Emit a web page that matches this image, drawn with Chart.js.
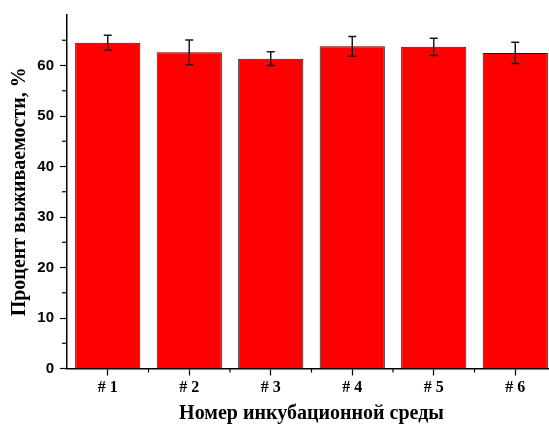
<!DOCTYPE html>
<html lang="ru">
<head>
<meta charset="UTF-8">
<script src="https://cdn.jsdelivr.net/npm/chart.js"></script>
<title>Процент выживаемости</title>
<style>
  html, body { margin: 0; background: #fff; overflow: hidden; }
  canvas { display: block; }
</style>
</head>
<body>
<!-- the original figure is cut off on the right, so the canvas is a bit wider than the window -->
<canvas id="myChart" width="556" height="428"></canvas>
<script>
const labels = ['# 1', '# 2', '# 3', '# 4', '# 5', '# 6'];
const survival = [64.5, 62.6, 61.35, 63.8, 63.7, 62.5];
const errors = [1.5, 2.45, 1.35, 1.95, 1.7, 2.1];
const yTicks = [0, 5, 10, 15, 20, 25, 30, 35, 40, 45, 50, 55, 60, 65];

// error bars + minor ticks
const extras = {
  id: 'extras',
  afterDatasetsDraw(chart) {
    const ctx = chart.ctx;
    const y = chart.scales.y;
    const x = chart.scales.x;
    const meta = chart.getDatasetMeta(0);
    ctx.save();
    ctx.strokeStyle = '#1a1a1a';
    ctx.lineWidth = 1.5;
    meta.data.forEach((bar, i) => {
      const top = y.getPixelForValue(survival[i] + errors[i]);
      const bot = y.getPixelForValue(survival[i] - errors[i]);
      ctx.beginPath();
      ctx.moveTo(bar.x, top); ctx.lineTo(bar.x, bot);
      ctx.moveTo(bar.x - 4, top); ctx.lineTo(bar.x + 4, top);
      ctx.moveTo(bar.x - 4, bot); ctx.lineTo(bar.x + 4, bot);
      ctx.stroke();
    });
    // minor ticks
    ctx.strokeStyle = '#000';
    ctx.lineWidth = 1.2;
    yTicks.filter(v => v % 10).forEach(v => {
      const py = y.getPixelForValue(v);
      ctx.beginPath();
      ctx.moveTo(y.right - 5, py); ctx.lineTo(y.right, py);
      ctx.stroke();
    });
    const step = x.getPixelForValue(1) - x.getPixelForValue(0);
    for (let i = 0; i < labels.length; i++) {
      const px = x.getPixelForValue(i) + step / 2;
      ctx.beginPath();
      ctx.moveTo(px, x.top); ctx.lineTo(px, x.top + 4);
      ctx.stroke();
    }
    ctx.restore();
  }
};

new Chart(document.getElementById('myChart'), {
  type: 'bar',
  data: {
    labels: labels,
    datasets: [{
      data: survival,
      backgroundColor: '#ff0000',
      borderColor: '#1a1a1a',
      borderWidth: 1,
      barPercentage: 0.8,
      categoryPercentage: 1.0
    }]
  },
  options: {
    responsive: false,
    animation: false,
    devicePixelRatio: 1,
    layout: { padding: { top: 12, right: 0, left: 0, bottom: 0 } },
    plugins: { legend: { display: false }, tooltip: { enabled: false } },
    scales: {
      x: {
        offset: true,
        afterFit: s => { s.height = 59.5; },
        border: { display: true, color: '#000', width: 1.5 },
        grid: { offset: false, drawOnChartArea: false, tickLength: 7, tickColor: '#000', tickWidth: 1.2 },
        ticks: { color: '#000', padding: 3, font: { family: 'Liberation Serif', weight: 'bold', size: 16 } },
        title: {
          display: true, text: 'Номер инкубационной среды', color: '#000',
          padding: { top: 0, bottom: 2 },
          font: { family: 'Liberation Serif', weight: 'bold', size: 20 }
        }
      },
      y: {
        min: 0, max: 70,
        afterFit: s => { s.width = 67; },
        afterBuildTicks: s => { s.ticks = yTicks.map(v => ({ value: v })); },
        border: { display: true, color: '#000', width: 1.5 },
        grid: {
          drawOnChartArea: false, tickLength: 7, tickWidth: 1.2,
          tickColor: c => (c.tick && c.tick.value % 10) ? 'rgba(0,0,0,0)' : '#000'
        },
        ticks: {
          color: '#000', padding: 6,
          callback: v => (v % 10 === 0 ? v : ''),
          font: { family: 'Liberation Sans', weight: 'bold', size: 15 }
        },
        title: {
          display: true, text: 'Процент выживаемости, %', color: '#000',
          padding: { top: 8, bottom: 4 },
          font: { family: 'Liberation Serif', weight: 'bold', size: 20 }
        }
      }
    }
  },
  plugins: [extras]
});
</script>
</body>
</html>
